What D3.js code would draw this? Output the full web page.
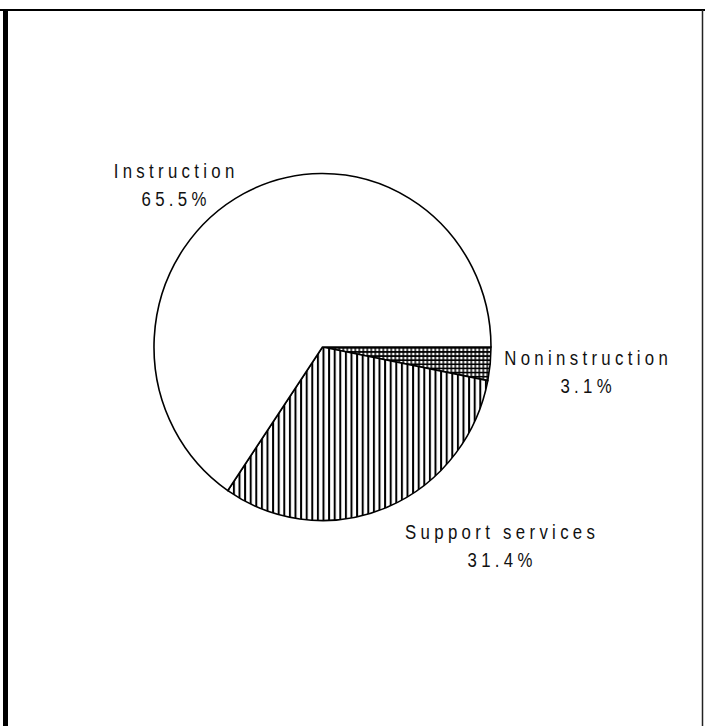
<!DOCTYPE html>
<html>
<head>
<meta charset="utf-8">
<script src="https://cdn.jsdelivr.net/npm/d3@7"></script>
<style>
  body { margin: 0; background: #fff; }
  text { font-family: "Liberation Sans", Arial, sans-serif; fill: #111; }
</style>
</head>
<body>
<script>
// slices in drawing order, clockwise from 3 o'clock
var categories = ["Noninstruction", "Support services", "Instruction"];
var shares = [3.1, 31.4, 65.5];
var shareLabels = ["3.1%", "31.4%", "65.5%"];

var width = 705, height = 726;
var cx = 322.5, cy = 347, radius = 168.5;
var squash = 1.03; // scan is a little taller than wide

var svg = d3.select("body").append("svg")
  .attr("width", width)
  .attr("height", height);

// frame of the scanned page
svg.append("line").attr("x1", 0).attr("x2", width).attr("y1", 10).attr("y2", 10)
  .attr("stroke", "#000").attr("stroke-width", 2);
svg.append("line").attr("x1", 5.5).attr("x2", 5.5).attr("y1", 10).attr("y2", height)
  .attr("stroke", "#000").attr("stroke-width", 5);
svg.append("line").attr("x1", 702.5).attr("x2", 702.5).attr("y1", 10).attr("y2", height)
  .attr("stroke", "#222").attr("stroke-width", 1.5);

var defs = svg.append("defs");

// vertical hatching
var vp = defs.append("pattern")
  .attr("id", "vlines")
  .attr("patternUnits", "userSpaceOnUse")
  .attr("width", 5.6).attr("height", 10);
vp.append("rect").attr("width", 5.6).attr("height", 10).attr("fill", "#fff");
vp.append("line").attr("x1", 1).attr("x2", 1).attr("y1", 0).attr("y2", 10)
  .attr("stroke", "#000").attr("stroke-width", 2);

// cross-hatch grid
var gp = defs.append("pattern")
  .attr("id", "grid")
  .attr("patternUnits", "userSpaceOnUse")
  .attr("width", 4).attr("height", 4);
gp.append("rect").attr("width", 4).attr("height", 4).attr("fill", "#fff");
gp.append("path").attr("d", "M0,0.75H4M0.75,0V4")
  .attr("stroke", "#000").attr("stroke-width", 1.5);

var fills = ["url(#grid)", "url(#vlines)", "#fff"];

var pie = d3.pie()
  .sort(null)
  .startAngle(Math.PI / 2)
  .endAngle(Math.PI / 2 + 2 * Math.PI);

var arc = d3.arc().innerRadius(0).outerRadius(radius);

var g = svg.append("g")
  .attr("transform", "translate(" + cx + "," + cy + ") scale(1," + squash + ")");

g.selectAll("path")
  .data(pie(shares))
  .enter()
  .append("path")
  .attr("d", arc)
  .attr("fill", function(d, i) { return fills[i]; })
  .attr("stroke", "#000")
  .attr("stroke-width", 1.6)
  .attr("vector-effect", "non-scaling-stroke")
  .attr("stroke-linejoin", "round");

// label positions: center x, baseline of the name line
var labelPos = [[586, 365], [500, 539], [174, 178]];
var ls = 5.4, sx = 0.8;

var labels = svg.selectAll(".label")
  .data(categories)
  .enter()
  .append("g")
  .attr("class", "label")
  .attr("transform", function(d, i) { return "translate(" + labelPos[i][0] + "," + labelPos[i][1] + ") scale(" + sx + ",1)"; });

labels.append("text")
  .attr("text-anchor", "middle")
  .attr("dx", ls / 2)
  .style("font-size", "21px")
  .style("letter-spacing", ls + "px")
  .text(function(d) { return d; });

labels.append("text")
  .attr("text-anchor", "middle")
  .attr("dx", ls / 2)
  .attr("y", 28)
  .style("font-size", "21px")
  .style("letter-spacing", ls + "px")
  .text(function(d, i) { return shareLabels[i]; });
</script>
</body>
</html>
